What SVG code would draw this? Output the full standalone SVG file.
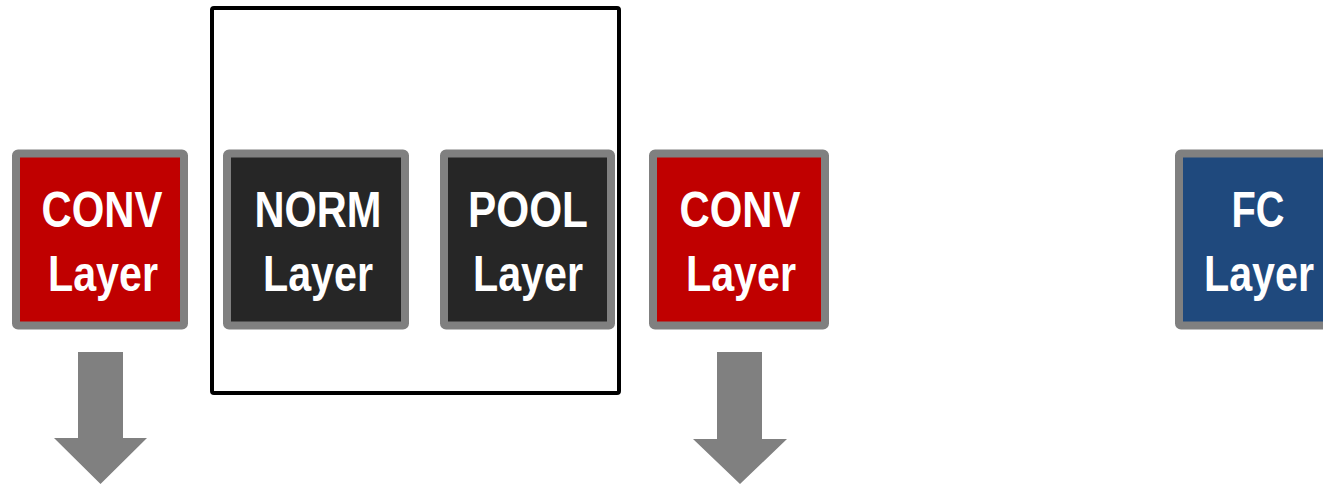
<svg xmlns="http://www.w3.org/2000/svg" width="1323" height="485" viewBox="0 0 1323 485">
  <style>
    .box { stroke: #808080; stroke-width: 8; }
    .conv { fill: #C00000; }
    .dark { fill: #262626; }
    .fc { fill: #1F497D; }
    .lbl { font-family: "Liberation Sans", Arial, sans-serif; font-weight: bold; font-size: 50px; fill: #FFFFFF; text-anchor: middle; }
    .arrow { fill: #808080; }
  </style>
  <rect width="1323" height="485" fill="#FFFFFF"/>
  <g id="frame">
    <rect x="212" y="8" width="407" height="385" rx="2" fill="none" stroke="#000000" stroke-width="4"/>
  </g>
  <g id="conv1">
    <rect class="box conv" x="16" y="153.5" width="168" height="172" rx="2"/>
    <text class="lbl" x="102" y="227" textLength="121" lengthAdjust="spacingAndGlyphs">CONV</text>
    <text class="lbl" x="103" y="291" textLength="110" lengthAdjust="spacingAndGlyphs">Layer</text>
  </g>
  <g id="norm">
    <rect class="box dark" x="227" y="153.5" width="178" height="172" rx="2"/>
    <text class="lbl" x="318" y="227" textLength="127" lengthAdjust="spacingAndGlyphs">NORM</text>
    <text class="lbl" x="318" y="291" textLength="110" lengthAdjust="spacingAndGlyphs">Layer</text>
  </g>
  <g id="pool">
    <rect class="box dark" x="444" y="153.5" width="167" height="172" rx="2"/>
    <text class="lbl" x="528" y="227" textLength="120" lengthAdjust="spacingAndGlyphs">POOL</text>
    <text class="lbl" x="528" y="291" textLength="110" lengthAdjust="spacingAndGlyphs">Layer</text>
  </g>
  <g id="conv2">
    <rect class="box conv" x="653" y="153.5" width="172" height="172" rx="2"/>
    <text class="lbl" x="740" y="227" textLength="121" lengthAdjust="spacingAndGlyphs">CONV</text>
    <text class="lbl" x="741" y="291" textLength="110" lengthAdjust="spacingAndGlyphs">Layer</text>
  </g>
  <g id="fc">
    <rect class="box fc" x="1179" y="153.5" width="172" height="172" rx="2"/>
    <text class="lbl" x="1258" y="227" textLength="53" lengthAdjust="spacingAndGlyphs">FC</text>
    <text class="lbl" x="1259" y="291" textLength="110" lengthAdjust="spacingAndGlyphs">Layer</text>
  </g>
  <g id="connectors">
    <polygon class="arrow" points="78,352 123,352 123,438 147,438 100.5,484 54,438 78,438"/>
    <polygon class="arrow" points="717,352 762,352 762,439 787,439 740,484 693,439 717,439"/>
  </g>
</svg>
